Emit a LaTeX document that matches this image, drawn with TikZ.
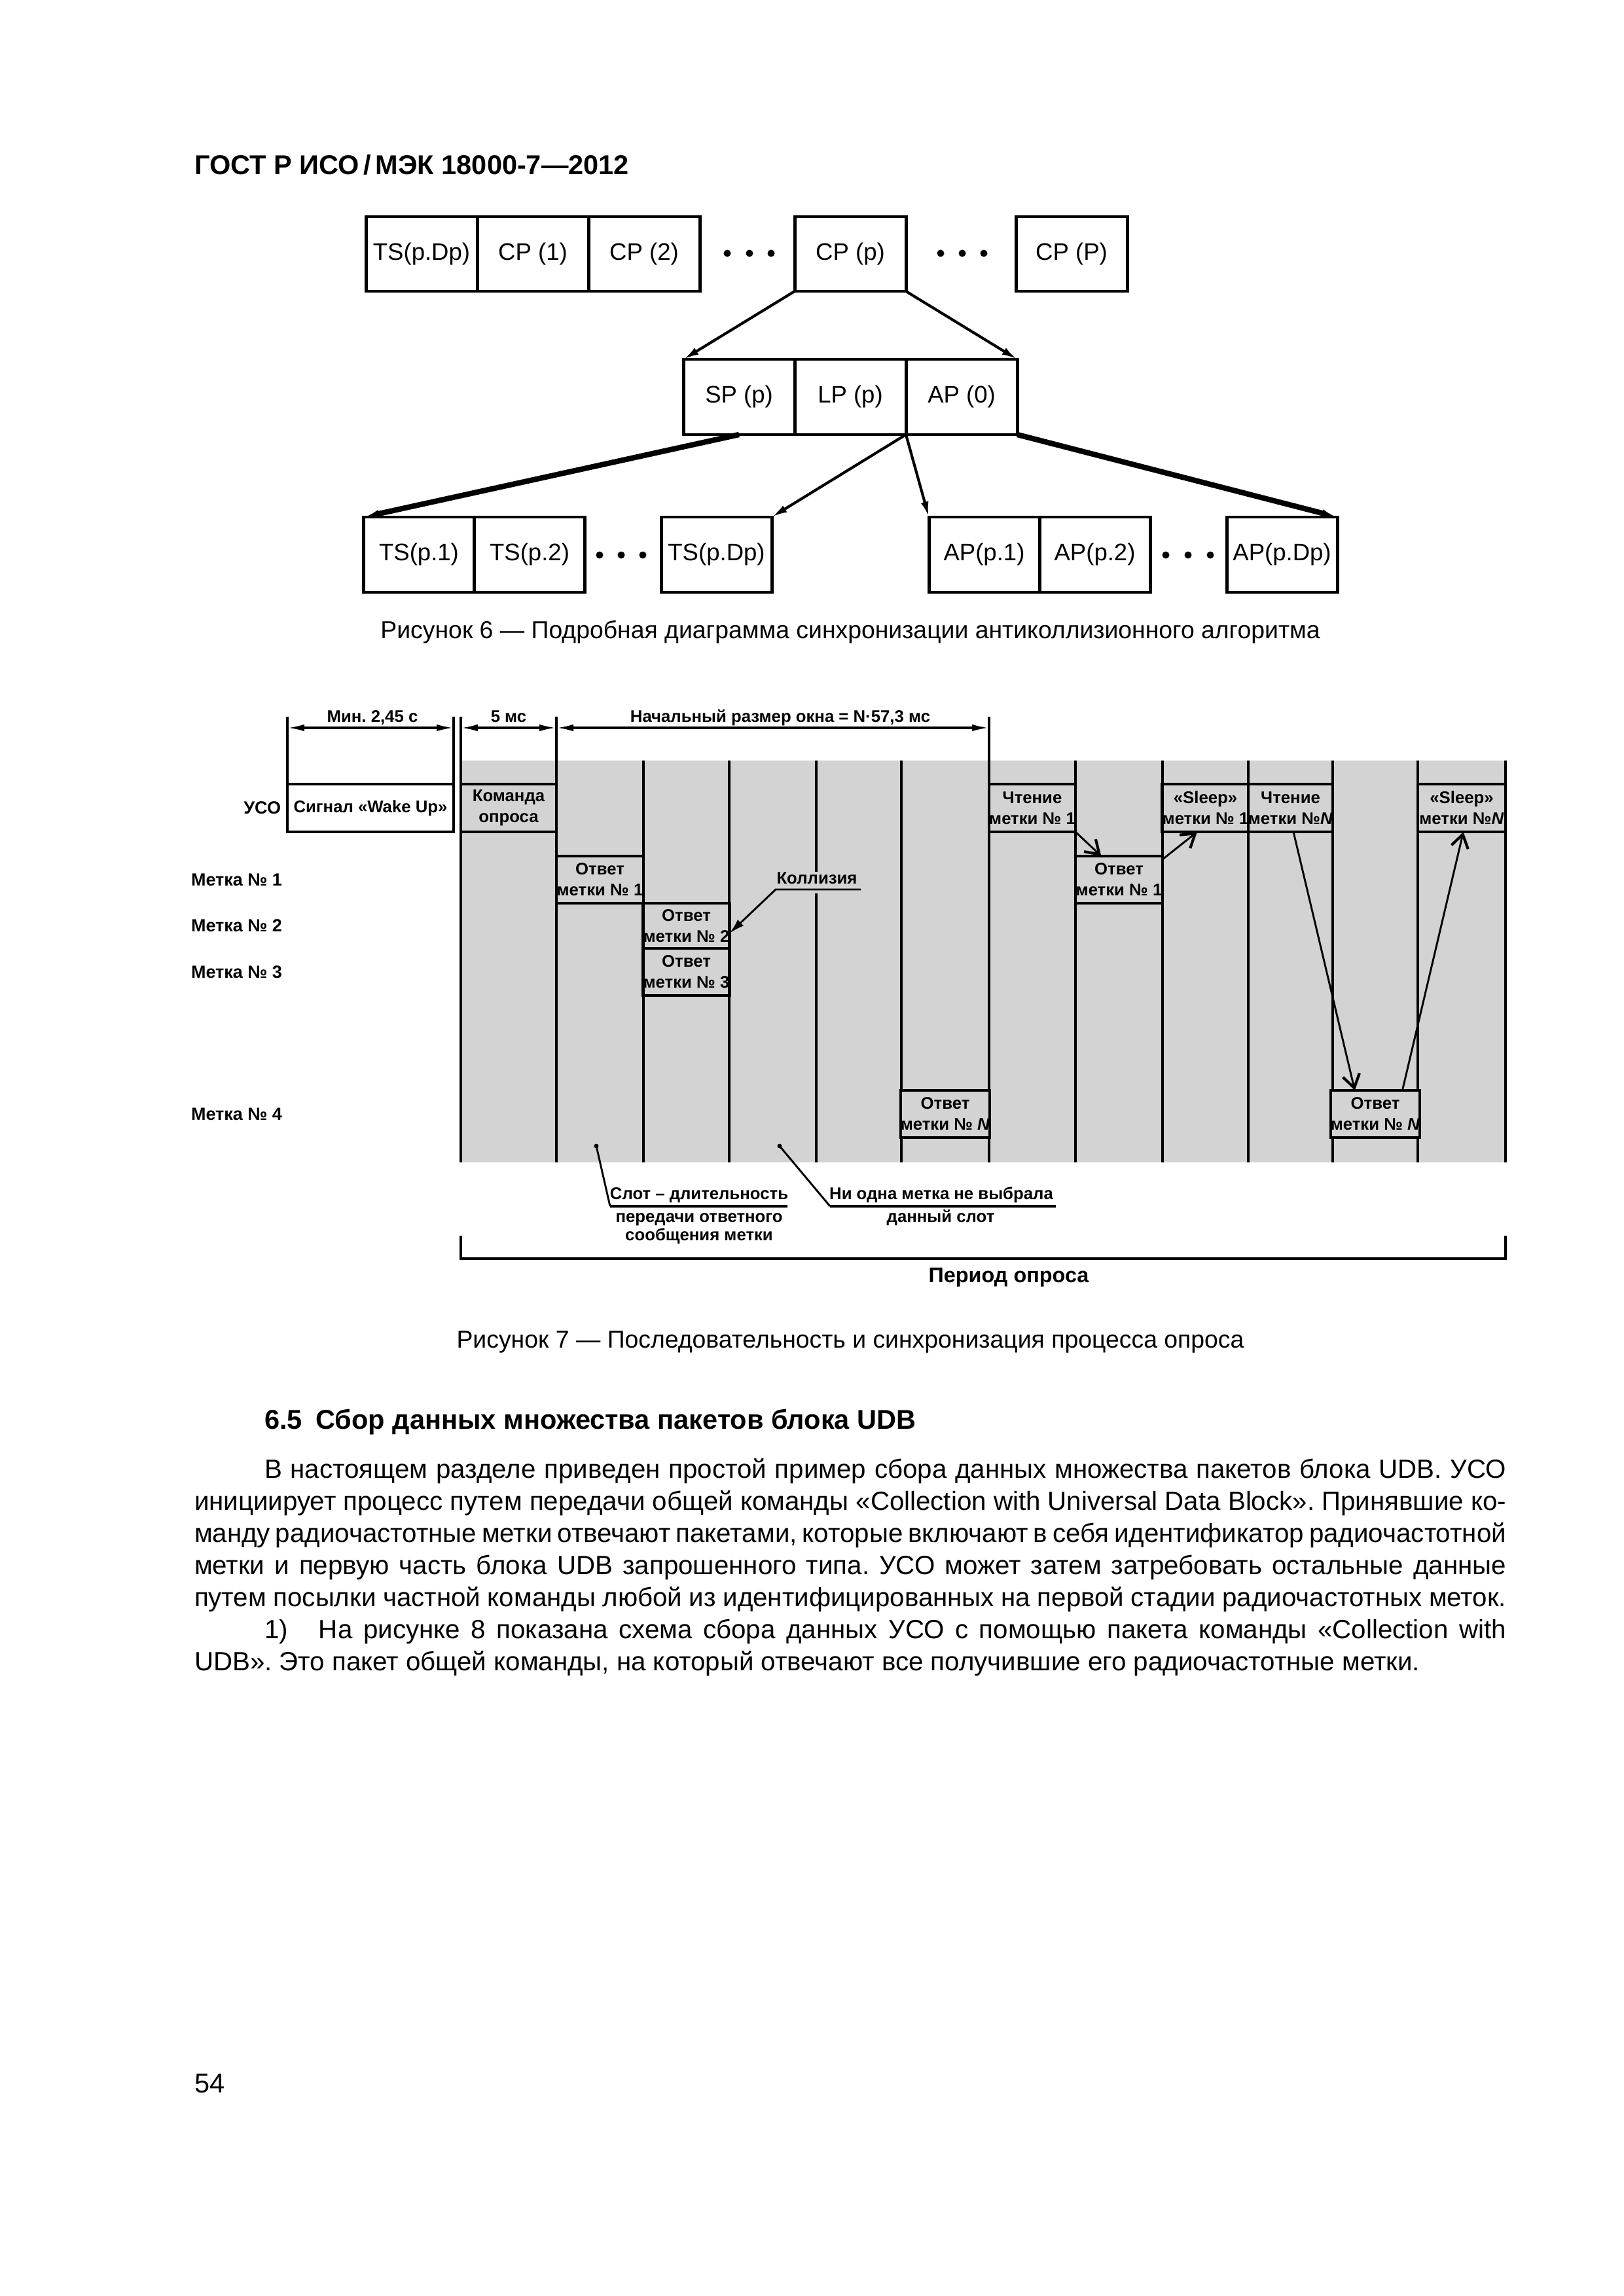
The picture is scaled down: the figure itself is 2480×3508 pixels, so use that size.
\documentclass[tikz,border=0pt]{standalone}
\usepackage{fontspec}
\setmainfont{Liberation Sans}
\usetikzlibrary{arrows.meta,positioning}
\frenchspacing

\newlength{\pxu}
\setlength{\pxu}{0.24088pt}
\newcommand{\figsix}{\fontsize{8.8}{10.5}\selectfont}
\newcommand{\figsev}{\fontsize{6.2}{7.7}\selectfont\bfseries}
\newcommand{\bodyfont}{\fontsize{9.7}{11.8}\selectfont}
\definecolor{slotgray}{RGB}{211,211,211}

\begin{document}
\begin{tikzpicture}[
  x=\pxu, y=-\pxu,
  node distance=0pt,
  >={Latex[length=2mm,width=1mm]},
  every node/.style={inner sep=0pt, outer sep=0pt},
  cell/.style={draw, line width=1.2pt, minimum width=170\pxu, minimum height=114\pxu, font=\figsix},
  link/.style={->, line width=1pt},
  biglink/.style={->, line width=2pt},
  tbox/.style={draw, line width=1.1pt, fill=slotgray, align=center, font=\figsev, minimum height=72\pxu},
  rowlbl/.style={anchor=east, font=\fontsize{6.5}{7.7}\selectfont\bfseries},
  slotline/.style={line width=0.8pt},
  dimline/.style={>={Latex[length=2.2mm,width=0.9mm]}, <->, line width=0.8pt},
  hop/.style={-{Straight Barb[length=1.7mm,width=2.2mm,line width=1pt]}, line width=0.7pt},
  note/.style={anchor=base, font=\figsev},
  caption/.style={anchor=base, font=\fontsize{9}{10.8}\selectfont},
  body/.style={anchor=base west, font=\bodyfont}
]
\fill[white] (0,0) rectangle (2480,3508);
\useasboundingbox (0,0) rectangle (2480,3508);

\node[anchor=base west, font=\fontsize{10}{12}\selectfont\bfseries] (hdr) at (297,267) {ГОСТ Р ИСО\,/\,МЭК 18000-7—2012};

% figure 6
\node[cell] (ts) at (644,388) {TS(p.Dp)};
\node[cell, right=of ts] (cp1) {CP (1)};
\node[cell, right=of cp1] (cp2) {CP (2)};
\node[cell] (cpp) at (1299,388) {CP (p)};
\node[cell] (cpP) at (1637,388) {CP (P)};

\node[cell, minimum height=115\pxu] (sp) at (1129,606.5) {SP (p)};
\node[cell, minimum height=115\pxu, right=of sp] (lp) {LP (p)};
\node[cell, minimum height=115\pxu, right=of lp] (ap0) {AP (0)};

\node[cell, minimum width=169\pxu, minimum height=115\pxu] (tsa) at (640,847.5) {TS(p.1)};
\node[cell, minimum width=169\pxu, minimum height=115\pxu, right=of tsa] (tsb) {TS(p.2)};
\node[cell, minimum width=169\pxu, minimum height=115\pxu] (tsd) at (1094.5,847.5) {TS(p.Dp)};
\node[cell, minimum width=169\pxu, minimum height=115\pxu] (apa) at (1503.5,847.5) {AP(p.1)};
\node[cell, minimum width=169\pxu, minimum height=115\pxu, right=of apa] (apb) {AP(p.2)};
\node[cell, minimum width=169\pxu, minimum height=115\pxu] (apd) at (1958.5,847.5) {AP(p.Dp)};

\foreach \dx in {1111,1145,1178,1437,1470,1503}
  \fill (\dx,387) circle[radius=5.5\pxu];
\foreach \dx in {916,949,982,1781,1815,1849}
  \fill (\dx,848) circle[radius=5.5\pxu];

\draw[link] (cpp.south west) -- (sp.north west);
\draw[link] (cpp.south east) -- (ap0.north east);
\draw[biglink] (sp.south) -- (tsa.north west);
\draw[link] (lp.south east) -- (tsd.north east);
\draw[link] (lp.south east) -- (apa.north west);
\draw[biglink] (ap0.south east) -- (apd.north east);

\node[caption] (cap6) at (1299,975) {Рисунок 6 — Подробная диаграмма синхронизации антиколлизионного алгоритма};

% figure 7
\fill[slotgray] (704,1162) rectangle (2300,1776);
\foreach \sx in {704,850,983,1114,1247,1377,1511,1643,1776,1907,2036,2166,2300}
  \draw[slotline] (\sx,1162) -- (\sx,1776);

\node[tbox, fill=white, minimum width=254\pxu, minimum height=73\pxu] (wake) at (566,1234.5) {Сигнал «Wake Up»};
\node[tbox, minimum width=146\pxu, minimum height=73\pxu] (cmd) at (777,1234.5) {Команда\\опроса};
\node[tbox, minimum width=133\pxu] (ans1) at (916.5,1344) {Ответ\\метки № 1};
\node[tbox, minimum width=131\pxu, minimum height=69\pxu] (ans2) at (1048.5,1414.5) {Ответ\\метки № 2};
\node[tbox, minimum width=131\pxu] (ans3) at (1048.5,1485) {Ответ\\метки № 3};
\node[tbox, minimum width=134\pxu] (ansN) at (1444,1702) {Ответ\\метки № \textit{N}};
\node[tbox, minimum width=132\pxu, minimum height=73\pxu] (read1) at (1577,1234.5) {Чтение\\метки № 1};
\node[tbox, minimum width=133\pxu] (ans1b) at (1709.5,1344) {Ответ\\метки № 1};
\node[tbox, minimum width=131\pxu, minimum height=73\pxu] (sleep1) at (1841.5,1234.5) {«Sleep»\\метки № 1};
\node[tbox, minimum width=129\pxu, minimum height=73\pxu] (readN) at (1971.5,1234.5) {Чтение\\метки №\textit{N}};
\node[tbox, minimum width=130\pxu] (ansNb) at (2101,1702) {Ответ\\метки № \textit{N}};
\node[tbox, minimum width=134\pxu, minimum height=73\pxu] (sleepN) at (2233,1234.5) {«Sleep»\\метки №\textit{N}};

\node[rowlbl] (uso) at (429,1234) {УСО};
\node[rowlbl] (tag1) at (431,1344) {Метка № 1};
\node[rowlbl] (tag2) at (431,1414.5) {Метка № 2};
\node[rowlbl] (tag3) at (431,1485) {Метка № 3};
\node[rowlbl] (tag4) at (431,1702) {Метка № 4};

% dimensions
\coordinate (dimtop) at (0,1095);
\coordinate (dimy) at (0,1112);
\draw[slotline] (wake.north west) -- (wake.north west |- dimtop);
\draw[slotline] (wake.north east) -- (wake.north east |- dimtop);
\draw[slotline] (cmd.north west) -- (cmd.north west |- dimtop);
\draw[slotline] (cmd.north east) -- (cmd.north east |- dimtop);
\draw[slotline] (read1.north west) -- (read1.north west |- dimtop);
\draw[dimline] (wake.north west |- dimy) -- (wake.north east |- dimy);
\draw[dimline] (cmd.north west |- dimy) -- (cmd.north east |- dimy);
\draw[dimline] (cmd.north east |- dimy) -- (read1.north west |- dimy);
\node[note] (dmin) at (569,1103) {Мин. 2,45 с};
\node[note] (dfive) at (777,1103) {5 мс};
\node[note] (dwin) at (1192,1103) {Начальный размер окна = N·57,3 мс};

% collision
\node[note, fill=slotgray, inner xsep=2\pxu, text depth=15\pxu] (coll) at (1248,1350) {Коллизия};
\coordinate (collL) at (1185,1359);
\coordinate (collR) at (1315,1359);
\draw[line width=0.7pt, -{Latex[length=2mm,width=1.1mm]}] (collR) -- (collL) -- (ans2.-10);

% replies
\draw[hop] (read1.south east) -- (ans1b.127);
\draw[hop] (ans1b.25) -- (sleep1.251);
\draw[hop] (readN.-83) -- (ansNb.131);
\draw[hop] (ansNb.41) -- (sleepN.-86);

% slot notes
\coordinate (dot1) at (911,1751);
\coordinate (dot2) at (1191,1751);
\fill (dot1) circle[radius=3.5\pxu];
\fill (dot2) circle[radius=3.5\pxu];
\coordinate (s1a) at (932,1843);
\coordinate (s1b) at (1203,1843);
\coordinate (s2a) at (1268,1843);
\coordinate (s2b) at (1613,1843);
\draw[line width=0.7pt] (dot1) -- (s1a);
\draw[line width=1pt] (s1a) -- (s1b);
\draw[line width=0.7pt] (dot2) -- (s2a);
\draw[line width=1pt] (s2a) -- (s2b);
\node[note] (slot1) at (1068,1832) {Слот – длительность};
\node[note] (slot2) at (1068,1867) {передачи ответного};
\node[note] (slot3) at (1068,1895) {сообщения метки};
\node[note] (none1) at (1438,1832) {Ни одна метка не выбрала};
\node[note] (none2) at (1437,1867) {данный слот};

\draw[line width=1pt] (704,1888) -- (704,1923) -- (2300,1923) -- (2300,1888);
\node[anchor=base, font=\fontsize{7.8}{9}\selectfont\bfseries] (period) at (1541,1959) {Период опроса};

\node[caption] (cap7) at (1299,2059) {Рисунок 7 — Последовательность и синхронизация процесса опроса};

% text
\node[anchor=base west, font=\fontsize{10}{12}\selectfont\bfseries] (sec) at (404,2183) {6.5\enspace Сбор данных множества пакетов блока UDB};
\node[body] (p1) at (404,2258) {\makebox[1897\pxu][s]{В настоящем разделе приведен простой пример сбора данных множества пакетов блока UDB. УСО}};
\node[body] (p2) at (297,2307) {\makebox[2004\pxu][s]{инициирует процесс путем передачи общей команды «Collection with Universal Data Block». Принявшие ко-}};
\node[body] (p3) at (297,2356) {\makebox[2004\pxu][s]{манду радиочастотные метки отвечают пакетами, которые включают в себя идентификатор радиочастотной}};
\node[body] (p4) at (297,2405) {\makebox[2004\pxu][s]{метки и первую часть блока UDB запрошенного типа. УСО может затем затребовать остальные данные}};
\node[body] (p5) at (297,2454) {\makebox[2004\pxu][s]{путем посылки частной команды любой из идентифицированных на первой стадии радиочастотных меток.}};
\node[body] (p6) at (404,2503) {\makebox[83\pxu][l]{1)}\makebox[1814\pxu][s]{На рисунке 8 показана схема сбора данных УСО с помощью пакета команды «Collection with}};
\node[body] (p7) at (297,2552) {UDB». Это пакет общей команды, на который отвечают все получившие его радиочастотные метки.};

\node[anchor=base west, font=\fontsize{10}{12}\selectfont] (pgno) at (297,3197) {54};
\end{tikzpicture}
\end{document}
